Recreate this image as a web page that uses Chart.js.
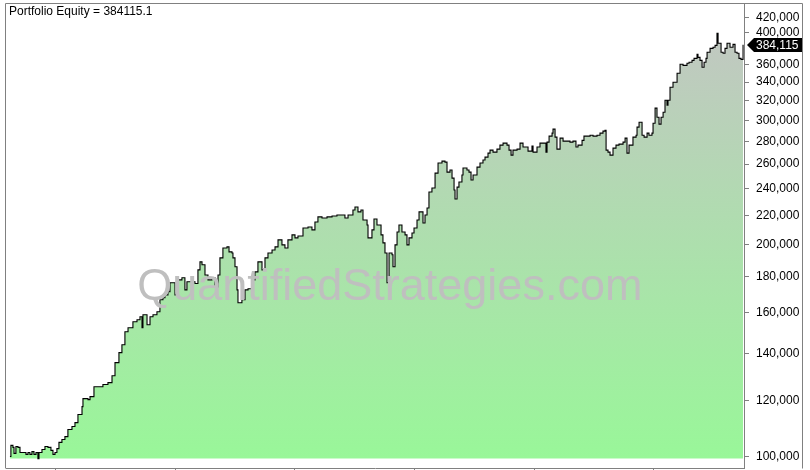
<!DOCTYPE html>
<html>
<head>
<meta charset="utf-8">
<script src="https://cdn.jsdelivr.net/npm/chart.js@4.4.1/dist/chart.umd.min.js"></script>
<style>
  html,body{margin:0;padding:0;background:#fff;}
  #wrap{width:810px;height:470px;}
</style>
</head>
<body>
<div id="wrap"><canvas id="eq" width="810" height="470"></canvas></div>
<script>
// Portfolio equity curve (log scale)

// decimal year of each sample
var dates = [
  2017.615,2017.623,2017.640,2017.649,2017.665,2017.682,2017.699,2017.724,2017.749,2017.766,
  2017.782,2017.799,2017.816,2017.833,2017.849,2017.858,2017.883,2017.908,2017.933,2017.958,
  2017.975,2017.992,2018.008,2018.025,2018.050,2018.075,2018.100,2018.134,2018.159,2018.184,
  2018.218,2018.226,2018.268,2018.285,2018.318,2018.368,2018.393,2018.435,2018.469,2018.494,
  2018.527,2018.552,2018.577,2018.603,2018.644,2018.678,2018.703,2018.720,2018.728,2018.762,
  2018.787,2018.812,2018.845,2018.870,2018.895,2018.912,2018.937,2018.954,2018.996,2019.021,
  2019.054,2019.079,2019.096,2019.138,2019.163,2019.188,2019.205,2019.222,2019.247,2019.272,
  2019.305,2019.331,2019.356,2019.372,2019.397,2019.431,2019.448,2019.473,2019.481,2019.498,
  2019.515,2019.523,2019.556,2019.582,2019.607,2019.640,2019.665,2019.690,2019.724,2019.749,
  2019.774,2019.808,2019.833,2019.858,2019.891,2019.916,2019.941,2019.975,2020.000,2020.025,
  2020.067,2020.109,2020.142,2020.167,2020.192,2020.226,2020.268,2020.310,2020.351,2020.393,
  2020.418,2020.444,2020.485,2020.502,2020.527,2020.552,2020.569,2020.603,2020.611,2020.644,
  2020.661,2020.686,2020.720,2020.736,2020.753,2020.770,2020.787,2020.812,2020.820,2020.837,
  2020.854,2020.870,2020.895,2020.921,2020.937,2020.954,2020.979,2020.996,2021.021,2021.038,
  2021.071,2021.088,2021.105,2021.121,2021.146,2021.172,2021.197,2021.230,2021.255,2021.272,
  2021.297,2021.314,2021.331,2021.339,2021.356,2021.372,2021.397,2021.406,2021.439,2021.456,
  2021.473,2021.490,2021.523,2021.548,2021.573,2021.590,2021.615,2021.632,2021.657,2021.690,
  2021.715,2021.741,2021.774,2021.791,2021.808,2021.824,2021.858,2021.883,2021.908,2021.933,
  2021.950,2021.983,2021.992,2022.025,2022.050,2022.075,2022.100,2022.109,2022.126,2022.151,
  2022.159,2022.176,2022.192,2022.218,2022.243,2022.276,2022.301,2022.326,2022.351,2022.368,
  2022.402,2022.418,2022.444,2022.469,2022.494,2022.527,2022.552,2022.577,2022.594,2022.603,
  2022.619,2022.636,2022.661,2022.686,2022.711,2022.745,2022.762,2022.778,2022.795,2022.828,
  2022.854,2022.862,2022.879,2022.904,2022.921,2022.946,2022.962,2022.987,2022.996,2023.013,
  2023.029,2023.046,2023.063,2023.080,2023.096,2023.113,2023.121,2023.138,2023.163,2023.180,
  2023.197,2023.222,2023.247,2023.280,2023.297,2023.322,2023.339,2023.364,2023.372,2023.389,
  2023.406,2023.423,2023.439,2023.448,2023.473,2023.498,2023.515,2023.531,2023.540,2023.565,
  2023.582,2023.598,2023.615,2023.640,2023.665,2023.682,2023.699,2023.715,2023.732,2023.749
];

// portfolio equity at each sample
var equity = [
  100000,103700,103000,101000,103300,103000,101300,101300,100700,101300,
  100700,101600,100700,101300,99300,101300,102300,103300,103000,102000,
  100700,101300,102600,104700,105700,106700,109200,110300,111700,114700,
  117700,120800,120400,121600,125600,125600,126500,127300,130200,135900,
  140400,144100,150300,152300,155300,156300,157900,152300,158900,153800,
  157900,158900,160500,166900,168000,169600,171300,176400,169600,178100,
  179300,172400,177000,177000,176000,184000,188900,187100,181000,178100,
  179300,174100,181000,191400,197700,198400,195200,194500,191400,185900,
  172400,165300,166900,172400,173000,178100,182800,188900,184000,191400,
  194500,196400,198400,203000,199700,197700,203000,206300,204300,205600,
  211000,211700,209700,215200,218800,218000,218800,219500,220200,220200,
  218000,220200,223800,226000,222400,223800,216600,213100,204300,209700,
  217300,213100,206300,201000,194500,176400,194500,193300,185900,199700,
  208300,213100,208300,206300,199700,204300,207600,211000,216600,222400,
  214500,220200,225300,237300,240500,252500,260900,262600,261700,253300,
  255000,248400,238900,232000,241200,245200,250900,256700,255000,253300,
  246800,250900,257500,260900,263500,266000,269500,272200,270400,273100,
  276700,278500,276700,272200,267800,272200,273100,278500,274900,274900,
  271300,275800,270400,274900,278500,278500,270400,279400,284900,287700,
  291500,284000,273100,283100,280300,280300,279400,280300,274900,276700,
  281000,284900,284900,285800,284900,285800,287700,289600,290500,272200,
  270400,267800,274000,276700,277600,279400,283100,269500,276700,284000,
  285800,293400,298200,285800,284000,287700,285800,287700,297200,312200,
  303100,296300,303100,308100,320400,315200,320400,334300,339800,339800,
  349900,360300,359100,361500,362700,365000,367400,372300,368600,365000,
  356800,362700,367400,374700,379600,380900,383300,398700,385900,374700,
  373500,379600,385900,380900,384600,374700,373500,367400,366200,384115.1
];

var yTicks = [100000,120000,140000,160000,180000,200000,220000,240000,260000,
              280000,300000,320000,340000,360000,400000,420000];
var yearTicks = [2018,2019,2020,2021,2022,2023];
var titleText = 'Portfolio Equity = 384115.1';
var watermark = 'QuantifiedStrategies.com';

var FONT = '"Liberation Sans", Arial, sans-serif';
var FRAME = '#808080';

function fmt(v){ return Math.round(v).toLocaleString('en-US'); }

var points = dates.map(function(d,i){ return {x:d, y:equity[i]}; });
var lastVal = equity[equity.length-1];
var minVal = Math.min.apply(null, equity);

// title, watermark, frame, last value tag
var overlay = {
  id:'overlay',
  afterDatasetsDraw:function(chart){
    var a = chart.chartArea, ctx = chart.ctx;
    ctx.save();
    ctx.font = '45px '+FONT;
    ctx.fillStyle = '#bfbfbf';
    ctx.textAlign = 'center';
    ctx.textBaseline = 'alphabetic';
    ctx.fillText(watermark, a.left + (a.right-a.left)*0.52, a.top + (a.bottom-a.top)*0.638);
    ctx.restore();
  },
  afterDraw:function(chart){
    var a = chart.chartArea, ctx = chart.ctx, ys = chart.scales.y;
    ctx.save();
    // frame
    ctx.strokeStyle = FRAME; ctx.lineWidth = 1;
    ctx.beginPath();
    ctx.moveTo(a.left-0.5, a.bottom+0.5);
    ctx.lineTo(a.left-0.5, a.top-0.5);
    ctx.lineTo(802.5, a.top-0.5);
    ctx.lineTo(802.5, a.bottom+0.5);
    ctx.stroke();
    // title
    ctx.fillStyle = '#000';
    ctx.font = '12px '+FONT;
    ctx.textAlign = 'left'; ctx.textBaseline = 'middle';
    ctx.fillText(titleText, a.left+3, a.top+8);
    // last value tag
    var y = Math.round(ys.getPixelForValue(lastVal));
    var xl = ys.left;
    ctx.fillStyle = '#000';
    ctx.beginPath();
    ctx.moveTo(xl+3, y);
    ctx.lineTo(xl+10, y-7);
    ctx.lineTo(802, y-7);
    ctx.lineTo(802, y+7);
    ctx.lineTo(xl+10, y+7);
    ctx.closePath();
    ctx.fill();
    ctx.fillStyle = '#fff';
    ctx.fillText(fmt(lastVal), xl+12, y+0.5);
    ctx.restore();
  }
};

new Chart(document.getElementById('eq'), {
  type:'line',
  data:{
    datasets:[{
      data:points,
      stepped:true,
      borderColor:'#000',
      borderWidth:1.1,
      pointRadius:0,
      fill:{value:minVal},
      backgroundColor:function(c){
        var area = c.chart.chartArea;
        if(!area) return 'rgba(152,245,152,1)';
        var g = c.chart.ctx.createLinearGradient(0, area.top, 0, area.bottom);
        g.addColorStop(0, '#c4c4c4');
        g.addColorStop(1, '#98f898');
        return g;
      }
    }]
  },
  options:{
    responsive:false,
    animation:false,
    devicePixelRatio:1,
    layout:{padding:{left:6, top:4, right:0, bottom:0}},
    plugins:{legend:{display:false}, tooltip:{enabled:false}},
    scales:{
      x:{
        type:'linear',
        min:2017.582, max:2023.757,
        afterBuildTicks:function(ax){ ax.ticks = yearTicks.map(function(v){return {value:v};}); },
        afterFit:function(ax){ ax.height = 2; ax.paddingLeft = 0; ax.paddingRight = 0; },
        ticks:{display:false},
        grid:{drawOnChartArea:false, drawTicks:true, tickLength:4, color:FRAME},
        border:{display:true, color:FRAME}
      },
      y:{
        type:'logarithmic',
        position:'right',
        min:96300, max:438800,
        afterBuildTicks:function(ax){ ax.ticks = yTicks.map(function(v){return {value:v};}); },
        afterFit:function(ax){ ax.width = 66; ax.paddingTop = 0; ax.paddingBottom = 0; },
        ticks:{
          padding:7,
          color:'#000',
          font:{family:FONT, size:12},
          callback:function(v){ return fmt(v); }
        },
        grid:{drawOnChartArea:false, drawTicks:true, tickLength:5, color:FRAME},
        border:{display:true, color:FRAME}
      }
    }
  },
  plugins:[overlay]
});
</script>
</body>
</html>
